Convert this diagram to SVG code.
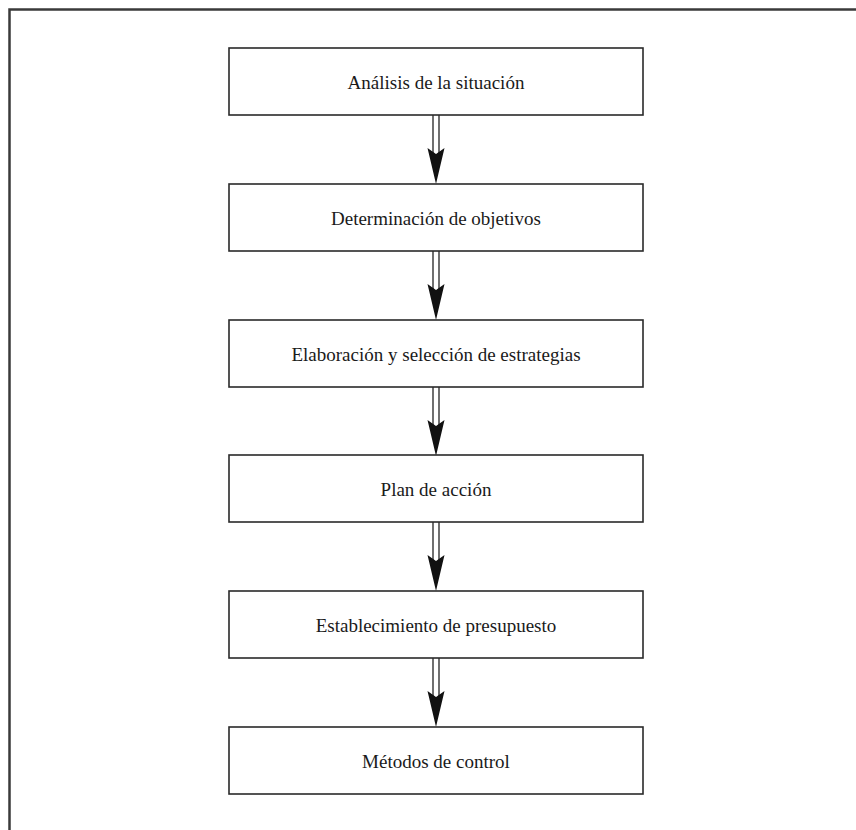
<svg xmlns="http://www.w3.org/2000/svg" xmlns:xlink="http://www.w3.org/1999/xlink" width="856" height="830" viewBox="0 0 856 830">
  <style>
    .frame { fill: none; stroke: #3a3a3a; stroke-width: 2.5; }
    .box { fill: #ffffff; stroke: #2a2a2a; stroke-width: 1.6; }
    .label { font-family: "Liberation Serif", "DejaVu Serif", serif; font-size: 19px; fill: #1a1a1a; text-anchor: middle; dominant-baseline: central; }
    .shaft { stroke: #222; stroke-width: 1.3; fill: none; }
    .head { fill: #111; stroke: none; }
  </style>
  <defs>
    <g id="dblArrow">
      <line class="shaft" x1="-3" y1="0" x2="-3" y2="38"/>
      <line class="shaft" x1="3" y1="0" x2="3" y2="38"/>
      <polygon class="head" points="-8.5,33 0,39 8.5,33 0,69"/>
    </g>
  </defs>
  <rect width="856" height="830" fill="#ffffff"/>
  <path class="frame" d="M9.5,840 L9.5,9.5 L866,9.5"/>

  <g id="connectors">
    <use xlink:href="#dblArrow" x="436" y="115"/>
    <use xlink:href="#dblArrow" x="436" y="251"/>
    <use xlink:href="#dblArrow" x="436" y="387"/>
    <use xlink:href="#dblArrow" x="436" y="522"/>
    <use xlink:href="#dblArrow" x="436" y="658"/>
  </g>

  <g id="node1">
    <rect class="box" x="229" y="48" width="414" height="67"/>
    <text class="label" x="436" y="82">Análisis de la situación</text>
  </g>
  <g id="node2">
    <rect class="box" x="229" y="184" width="414" height="67"/>
    <text class="label" x="436" y="218">Determinación de objetivos</text>
  </g>
  <g id="node3">
    <rect class="box" x="229" y="320" width="414" height="67"/>
    <text class="label" x="436" y="354">Elaboración y selección de estrategias</text>
  </g>
  <g id="node4">
    <rect class="box" x="229" y="455" width="414" height="67"/>
    <text class="label" x="436" y="489">Plan de acción</text>
  </g>
  <g id="node5">
    <rect class="box" x="229" y="591" width="414" height="67"/>
    <text class="label" x="436" y="625">Establecimiento de presupuesto</text>
  </g>
  <g id="node6">
    <rect class="box" x="229" y="727" width="414" height="67"/>
    <text class="label" x="436" y="761">Métodos de control</text>
  </g>
</svg>
